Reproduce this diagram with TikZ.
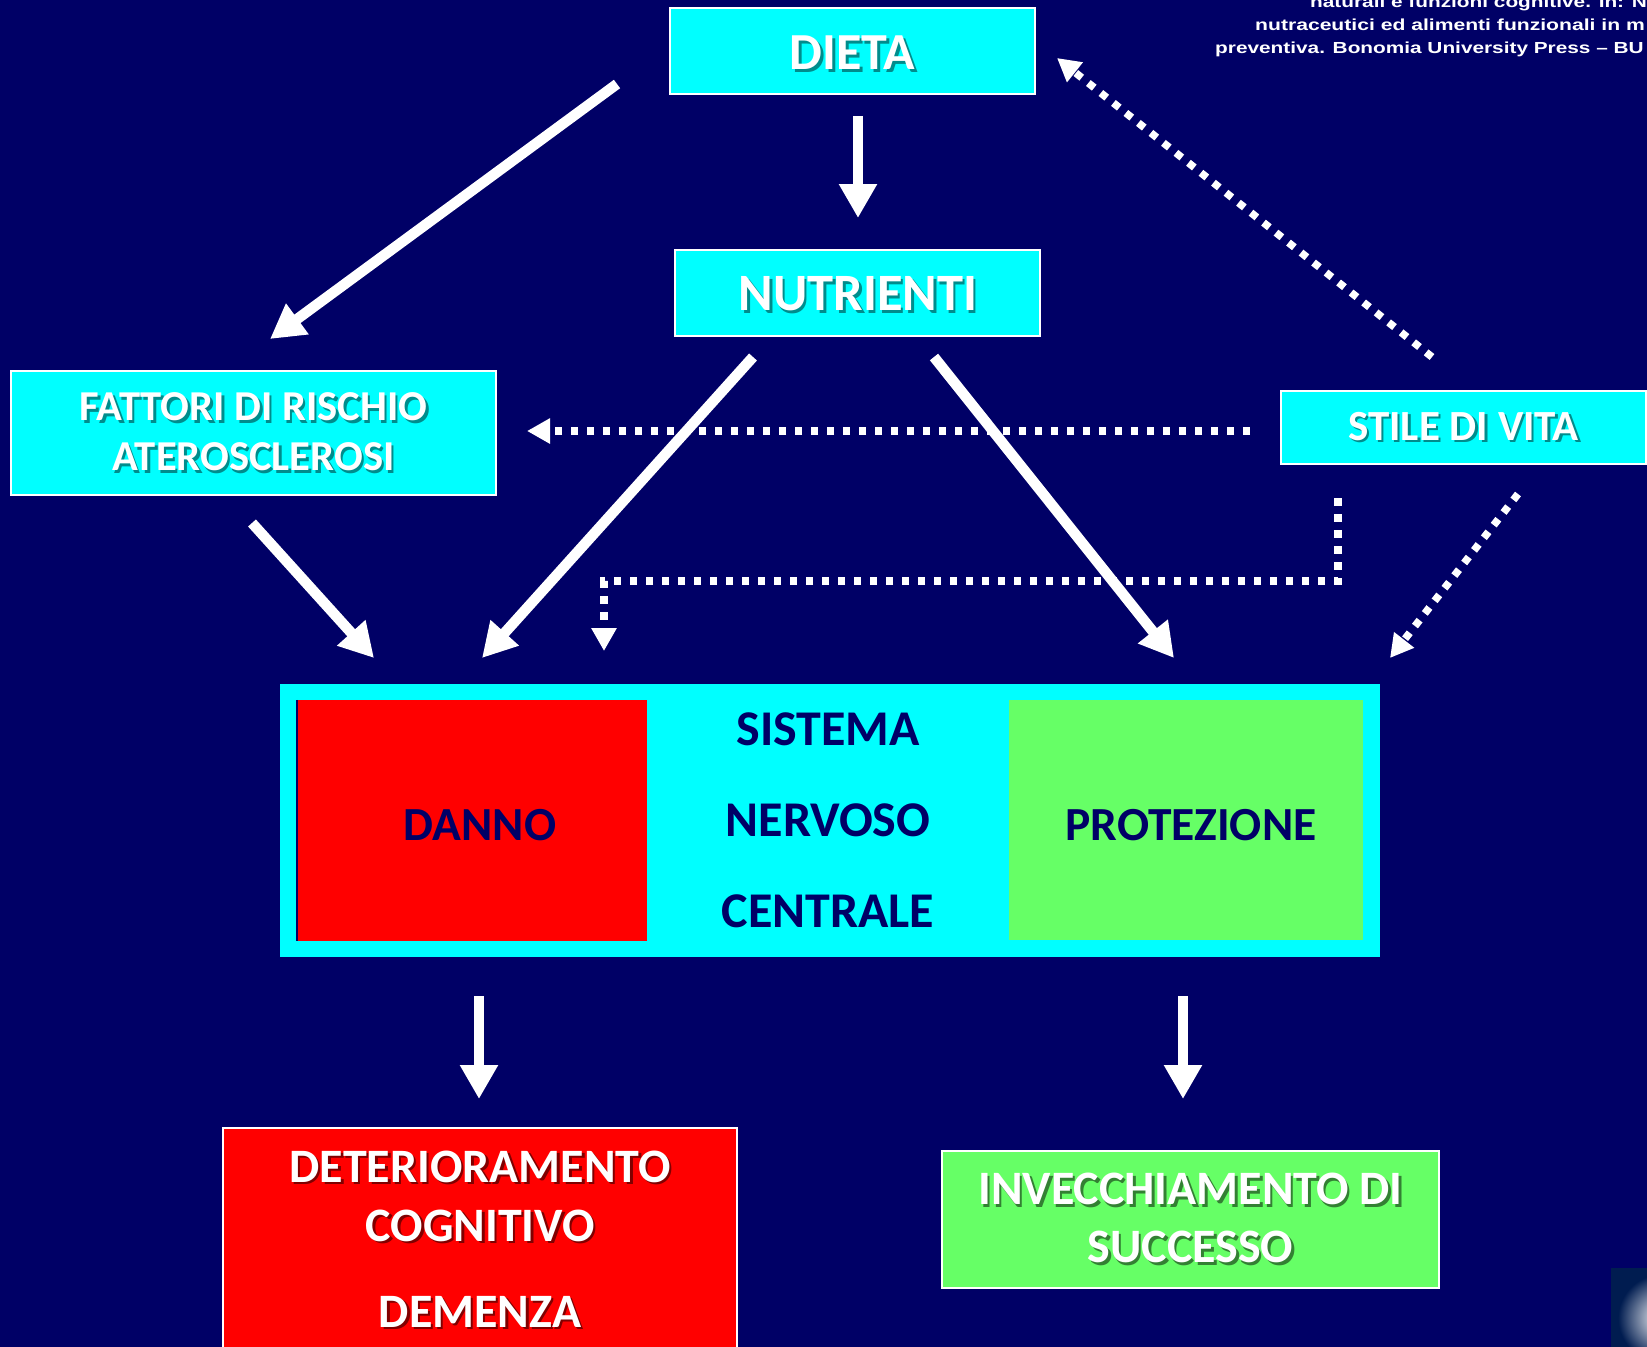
\documentclass[tikz,border=0pt]{standalone}
\usepackage{fontspec}
\setmainfont{Carlito}
\newfontfamily\citefont{Liberation Sans}
\usetikzlibrary{arrows.meta}
\definecolor{bgnavy}{RGB}{0,0,102}
\definecolor{boxcyan}{RGB}{0,255,255}
\definecolor{boxred}{RGB}{255,0,0}
\definecolor{boxgreen}{RGB}{102,255,102}
\definecolor{txtnavy}{RGB}{0,0,102}
\definecolor{logodark}{RGB}{0,28,80}
\colorlet{shc}{black}
\newcommand{\shd}[1]{\leavevmode\rlap{\hspace{2.5pt}\raisebox{-2.5pt}{\textcolor{shc}{#1}}}#1}
\begin{document}
\begin{tikzpicture}[x=1pt,y=-1pt,
  cbox/.style={draw=white, line width=2pt, fill=boxcyan, inner sep=0pt, text=white},
  rbox/.style={draw=white, line width=2pt, fill=boxred, inner sep=0pt, text=white},
  gbox/.style={draw=white, line width=2pt, fill=boxgreen, inner sep=0pt, text=white},
  plain/.style={inner sep=0pt, align=center},
  arr/.style={draw=white, line width=10.5pt, -{Triangle[length=34pt,width=36pt]}},
  dotarr/.style={draw=white, line width=7.5pt, dash pattern=on 7.5pt off 8.5pt,
     -{Triangle[length=23pt,width=24pt]}},
  cite/.style={inner sep=0pt, anchor=base west, text=white,
     font=\citefont\bfseries\fontsize{16}{18}\selectfont}
]
\fill[bgnavy] (0,0) rectangle (1647,1347);
\useasboundingbox (0,0) rectangle (1647,1347);

% citation (cut at the edges)
\node[cite] (c1) at (1310,7) {\scalebox{1.30}[1]{naturali e funzioni cognitive. In: N}};
\node[cite] (c2) at (1255,30) {\scalebox{1.32}[1]{nutraceutici ed alimenti funzionali in m}};
\node[cite] (c3) at (1215,53) {\scalebox{1.30}[1]{preventiva. Bonomia University Press – BU}};

% top boxes
\node[cbox, minimum width=365pt, minimum height=86pt] (dieta) at (852.5,51) {};
\node[plain, text=white, font={\colorlet{shc}{boxcyan!55!black}\bfseries\fontsize{52}{60}\selectfont}]
      (dietatext) at (852.5,54) {\shd{DIETA}};
\node[cbox, minimum width=365pt, minimum height=86pt] (nutr) at (857.5,293) {};
\node[plain, text=white, font={\colorlet{shc}{boxcyan!55!black}\bfseries\fontsize{52.5}{60}\selectfont}]
      (nutrtext) at (858,295) {\shd{NUTRIENTI}};
\node[cbox, minimum width=485pt, minimum height=124pt, align=center,
      font={\colorlet{shc}{boxcyan!55!black}\bfseries\fontsize{42.6}{50}\selectfont}]
      (fatt) at (253.5,433) {\shd{FATTORI DI RISCHIO}\\\shd{ATEROSCLEROSI}};
\node[cbox, minimum width=365pt, minimum height=73pt,
      font={\colorlet{shc}{boxcyan!55!black}\bfseries\fontsize{43}{50}\selectfont}]
      (stile) at (1463.5,427.5) {\shd{STILE DI VITA}};

% central system
\node[fill=boxcyan, minimum width=1100pt, minimum height=273pt, inner sep=0pt]
      (snc) at (830,820.5) {};
\node[fill=boxred, minimum width=350pt, minimum height=241pt, inner sep=0pt]
      (danno) at (472,820.5) {};
\draw[txtnavy, line width=2.5pt] (danno.north west) -- (danno.south west);
\node[plain, text=txtnavy, font=\bfseries\fontsize{47.5}{55}\selectfont]
      (dannotext) at (480,825) {DANNO};
\node[fill=boxgreen, minimum width=354pt, minimum height=240pt, inner sep=0pt]
      (prot) at (1186,820) {};
\node[plain, text=txtnavy, font=\bfseries\fontsize{47.5}{55}\selectfont]
      (prottext) at (1191,825) {PROTEZIONE};
\node[plain, text=txtnavy, font=\bfseries\fontsize{50}{91}\selectfont]
      (snctext) at (828,820) {SISTEMA\\NERVOSO\\CENTRALE};

% outcome boxes
\node[rbox, minimum width=514pt, minimum height=273pt, anchor=north]
      (deter) at (480,1127) {};
\node[plain, text=white, font={\colorlet{shc}{boxred!50!black}\bfseries\fontsize{48}{59}\selectfont}]
      (detertext) at (480,1240) {\shd{DETERIORAMENTO}\\\shd{COGNITIVO}\\[27pt]\shd{DEMENZA}};
\node[gbox, minimum width=497pt, minimum height=137pt, align=center,
      font={\colorlet{shc}{boxgreen!50!black}\bfseries\fontsize{48}{58}\selectfont}]
      (invec) at (1190.5,1219.5) {\shd{INVECCHIAMENTO DI}\\\shd{SUCCESSO}};

% logo corner
\begin{scope}
  \clip (1611,1268) rectangle (1647,1347);
  \fill[logodark] (1611,1268) rectangle (1647,1347);
  \shade[inner color=white, outer color=logodark] (1662,1318) circle (44);
\end{scope}

% connector end points
\coordinate (a1s) at (617,84);   \coordinate (a1e) at (270,339);
\coordinate (a2s) at (858,116);  \coordinate (a2e) at (858,218);
\coordinate (a3s) at (753,357);  \coordinate (a3e) at (482,658);
\coordinate (a4s) at (934,357);  \coordinate (a4e) at (1174,658);
\coordinate (a5s) at (252,523);  \coordinate (a5e) at (374,658);
\coordinate (a6s) at (479,996);  \coordinate (a6e) at (479,1099);
\coordinate (a7s) at (1183,996); \coordinate (a7e) at (1183,1099);
\coordinate (d1s) at (1432,357); \coordinate (d1e) at (1057,58);
\coordinate (d2s) at (1250,431); \coordinate (d2e) at (527,431);
\coordinate (d3s) at (1338,498); \coordinate (d3a) at (1338,581);
\coordinate (d3b) at (604,581);  \coordinate (d3e) at (604,651);
\coordinate (d4s) at (1518,494); \coordinate (d4e) at (1390,658);

% dotted arrows (behind)
\draw[dotarr] (d1s) -- (d1e);
\draw[dotarr] (d2s) -- (d2e);
\draw[dotarr] (d3s) -- (d3a) -- (d3b) -- (d3e);
\draw[dotarr] (d4s) -- (d4e);

% solid arrows
\draw[arr] (a1s) -- (a1e);
\draw[arr] (a2s) -- (a2e);
\draw[arr] (a3s) -- (a3e);
\draw[arr] (a4s) -- (a4e);
\draw[arr] (a5s) -- (a5e);
\draw[arr] (a6s) -- (a6e);
\draw[arr] (a7s) -- (a7e);
\end{tikzpicture}
\end{document}
